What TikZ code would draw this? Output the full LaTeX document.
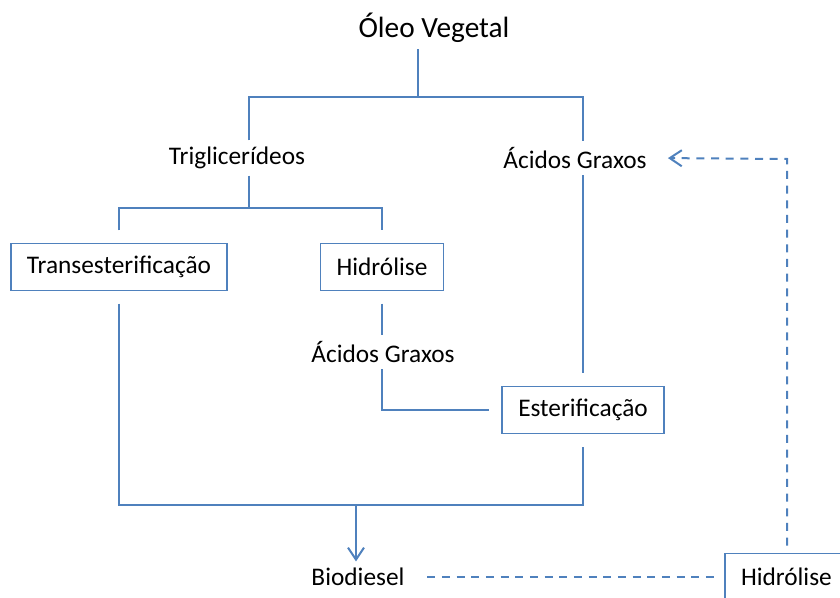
\documentclass[tikz,border=0pt]{standalone}
\usepackage{fontspec}
\setmainfont{Carlito}
\usetikzlibrary{arrows.meta}
\definecolor{lineblue}{HTML}{4F81BD}
\tikzstyle{word}=[inner sep=0pt, outer sep=5pt, font=\fontsize{19}{23}\selectfont]
\tikzstyle{headword}=[word, font=\fontsize{22}{26}\selectfont]
\tikzstyle{process}=[rectangle, draw=lineblue, line width=1.2pt,
  minimum height=35pt, inner xsep=12pt, outer sep=10pt,
  font=\fontsize{19}{23}\selectfont]
\tikzstyle{link}=[draw=lineblue, line width=1.5pt]
\tikzstyle{flow}=[link, -{Straight Barb[length=9pt, width=12pt]}]
\tikzstyle{back}=[link, dash pattern=on 6pt off 5pt]

\begin{document}
\begin{tikzpicture}[x=0.75pt, y=-0.75pt]
\clip (0,0) rectangle (840,598);

\node[headword] (oleo) at (434,28) {Óleo Vegetal};
\node[word] (trig) at (237,158) {Triglicerídeos};
\node[word] (acidA) at (575,158) {Ácidos Graxos};
\node[process] (trans) at (119,267) {Transesterificação};
\node[process] (hidrA) at (382,267) {Hidrólise};
\node[word] (acidB) at (383,352) {Ácidos Graxos};
\node[process] (ester) at (583,410) {Esterificação};
\node[word] (bio) at (358,577) {Biodiesel};
\node[process, outer sep=6pt, text width=90pt, align=left] (hidrB) at (801,577) {Hidrólise};

% junctions of the tree
\coordinate (splitA) at (418,97);
\coordinate (splitB) at (249,208);
\coordinate (merge) at (356,505);
\coordinate (turn) at (787,159);

\draw[link] (oleo.south -| splitA) -- (splitA);
\draw[link] (splitB |- trig.north) |- (ester |- splitA) -- (ester |- acidA.north);
\draw[link] (trig.south -| splitB) -- (splitB);
\draw[link] (trans.north) |- (splitB) -| (hidrA.north);
\draw[link] (hidrA.south) -- (hidrA.south |- acidB.north);
\draw[link] (hidrA.south |- acidB.south) |- (ester.west);
\draw[link] (ester |- acidA.south) -- (ester.north);
\draw[link] (trans.south) |- (merge) -| (ester.south);
\draw[flow] (merge) -- (merge |- bio.north);

\draw[back, shorten <=12pt] (bio.east) -- (hidrB.west);
\draw[back, -{Straight Barb[length=9pt, width=12pt]}, shorten >=11pt]
  (hidrB.north -| turn) -- (turn) -- (acidA.east);

\end{tikzpicture}
\end{document}
